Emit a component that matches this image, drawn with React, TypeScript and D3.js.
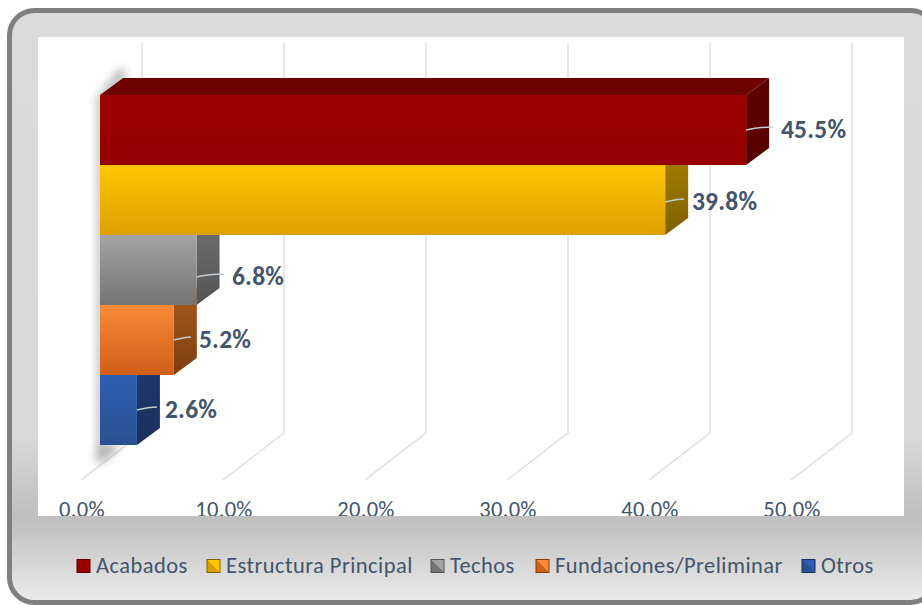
import React from "react";
import * as d3 from "d3";

const categories = ["Acabados", "Estructura Principal", "Techos", "Fundaciones/Preliminar", "Otros"];
const values = [45.5, 39.8, 6.8, 5.2, 2.6];
const tickValues = [0, 10, 20, 30, 40, 50];
const frontTop = ["#9c0000", "#ffc700", "#a3a3a3", "#f88a38", "#2f5fb3"];
const frontBottom = ["#960000", "#dc9f00", "#747474", "#cf5f18", "#27508f"];
const topColors = ["#6f0000", "#a07c00", "#6a6a6a", "#9a4e14", "#1f3864"];
const sideTop = ["#5e0000", "#a88000", "#6f6f6f", "#a85a1c", "#1f3a70"];
const sideBottom = ["#5a0000", "#7e6000", "#555555", "#7c3e10", "#1a2f5c"];
const legendX = [77, 207, 431, 536, 802];
const labelX = [781, 692, 232, 199, 165];
const labelY = [129, 201, 276, 339, 409];

const W = 922, H = 605;
const x = d3.scaleLinear().domain([0, 50]).range([100, 810]);
const y = d3.scaleBand<string>().domain(categories).range([95, 445]).padding(0);
const DX = 23, DY = -17;
const textColor = "#44546a";
const font = "Carlito, Lato, 'Open Sans', sans-serif";

export default function App() {
  const bw = y.bandwidth();
  const order = d3.range(values.length).reverse();
  const poly = d3.line<[number, number]>();
  return (
    <svg width={W} height={H} viewBox={`0 0 ${W} ${H}`} style={{ position: "absolute", left: 0, top: 0, display: "block" }}>
      <defs>
        <linearGradient id="bg" x1="0" y1="0" x2="0" y2="1">
          <stop offset="0" stopColor="#dcdbdc" />
          <stop offset="0.72" stopColor="#d9d9d9" />
          <stop offset="0.85" stopColor="#bfbfbf" />
          <stop offset="0.88" stopColor="#c4c4c4" />
          <stop offset="1" stopColor="#ececec" />
        </linearGradient>
        <filter id="blur" x="-60%" y="-60%" width="220%" height="220%">
          <feGaussianBlur stdDeviation="4" />
        </filter>
        {categories.map((_, i) => (
          <React.Fragment key={i}>
            <linearGradient id={`f${i}`} x1="0" y1="0" x2="0" y2="1">
              <stop offset="0" stopColor={frontTop[i]} />
              <stop offset="1" stopColor={frontBottom[i]} />
            </linearGradient>
            <linearGradient id={`s${i}`} x1="0" y1="0" x2="0" y2="1">
              <stop offset="0" stopColor={sideTop[i]} />
              <stop offset="1" stopColor={sideBottom[i]} />
            </linearGradient>
            <linearGradient id={`l${i}`} x1="0" y1="1" x2="1" y2="0">
              <stop offset="0.5" stopColor={frontBottom[i]} />
              <stop offset="0.5" stopColor={frontTop[i]} />
            </linearGradient>
          </React.Fragment>
        ))}
      </defs>

      <rect x={9.5} y={10.5} width={W + 4} height={H - 13} rx={25} ry={25} fill="url(#bg)" stroke="#7f7f7f" strokeWidth={5} />
      <rect x={38} y={37} width={866} height={479} fill="#ffffff" />

      <g stroke="#e2e3e8" strokeWidth={1.6} fill="none">
        {tickValues.map((t) => (
          <path
            key={t}
            d={poly([
              [x(t) + 42, 43],
              [x(t) + 42, 433],
              [x(t) - 19, 480],
            ]) as string}
          />
        ))}
      </g>

      <g filter="url(#blur)" fill="#7a7a7a" opacity={0.55}>
        <path d={poly([[100, 93], [122, 66], [126, 78], [104, 96]]) as string} />
        <path d={poly([[97, 95], [103, 95], [103, 448], [97, 448]]) as string} />
        <path d={poly([[97, 443], [122, 445], [104, 462], [95, 462]]) as string} />
      </g>

      {order.map((i) => {
        const c = categories[i];
        const x0 = x(0), x1 = x(values[i]);
        const t = y(c) as number, b = t + bw;
        return (
          <g key={c}>
            {i === 0 && (
              <path
                d={poly([[x0, t], [x0 + DX, t + DY], [x1 + DX, t + DY], [x1, t]]) as string + "Z"}
                fill={topColors[i]}
              />
            )}
            <path
              d={poly([[x1, t], [x1 + DX, t + DY], [x1 + DX, b + DY], [x1, b]]) as string + "Z"}
              fill={`url(#s${i})`}
            />
            <rect x={x0} y={t} width={x1 - x0} height={bw} fill={`url(#f${i})`} />
          </g>
        );
      })}

      <g fill="none" stroke="#c3cbd4" strokeWidth={1.5}>
        {categories.map((c, i) => {
          const x1 = x(values[i]);
          const ly = labelY[i];
          return <path key={c} d={`M${x1},${ly + 1} Q${x1 + 12},${ly - 2} ${labelX[i] - 8},${ly - 2}`} />;
        })}
      </g>

      <g fontFamily={font} fontWeight={700} fontSize={25.5} letterSpacing={0.2} fill={textColor}>
        {categories.map((c, i) => (
          <text key={c} x={labelX[i]} y={labelY[i]} dominantBaseline="central">
            {values[i].toFixed(1)}%
          </text>
        ))}
      </g>

      <clipPath id="panel"><rect x={38} y={37} width={866} height={479} /></clipPath>
      <g fontFamily={font} fontSize={22.5} letterSpacing={0.3} fill={textColor} textAnchor="middle" clipPath="url(#panel)">
        {tickValues.map((t) => (
          <text key={t} x={x(t) - 18} y={516.5}>{t.toFixed(1)}%</text>
        ))}
      </g>

      <g fontFamily={font} fontSize={22.5} letterSpacing={0.45} fill={textColor}>
        {categories.map((c, i) => (
          <g key={c}>
            <rect x={legendX[i]} y={559.5} width={13} height={13} fill={`url(#l${i})`} stroke={sideBottom[i]} strokeWidth={1} />
            <text x={legendX[i] + 19} y={565.5} dominantBaseline="central">{c}</text>
          </g>
        ))}
      </g>
    </svg>
  );
}
